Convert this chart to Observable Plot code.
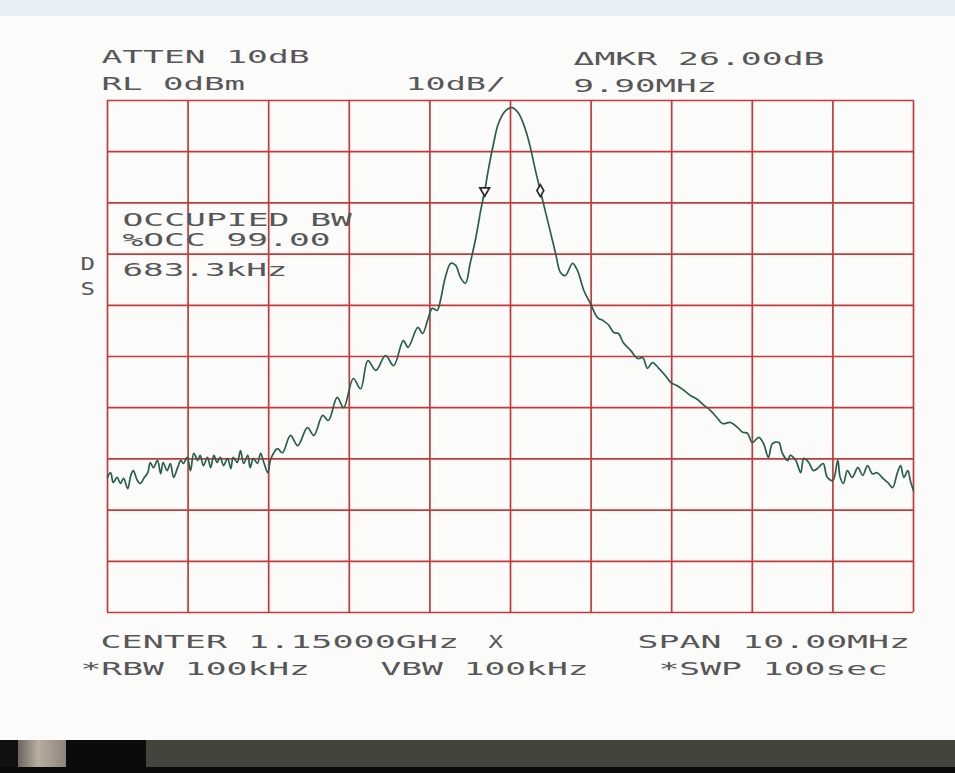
<!DOCTYPE html>
<html>
<head>
<meta charset="utf-8">
<script src="https://cdn.jsdelivr.net/npm/d3@7"></script>
<script src="https://cdn.jsdelivr.net/npm/@observablehq/plot@0.6"></script>
<style>
  html, body { margin: 0; padding: 0; background: #fbfbfa; }
  #page { position: relative; width: 955px; height: 773px; overflow: hidden; }
  #topband { position: absolute; left: 0; top: 0; width: 955px; height: 16px; background: #e6eff5; }
  #chart { position: absolute; left: 0; top: 0; }
  #bottombar { position: absolute; left: 0; top: 740px; width: 955px; height: 33px; background: #43443b; }
  #bottombar .edge { position: absolute; left: 0; top: 0; width: 18px; height: 33px; background: #111; }
  #bottombar .blob { position: absolute; left: 18px; top: 0; width: 50px; height: 33px; background: linear-gradient(90deg,#6a665e,#b9ada0 40%,#8a8278); }
  #bottombar .block { position: absolute; left: 66px; top: 0; width: 80px; height: 27px; background: #0b0b0b; }
  #bottombar .foot { position: absolute; left: 0; top: 27px; width: 955px; height: 6px; background: #0a0a0a; }
</style>
</head>
<body>
<div id="page">
  <div id="topband"></div>
  <div id="chart"></div>
  <div id="bottombar"><div class="edge"></div><div class="blob"></div><div class="block"></div><div class="foot"></div></div>
</div>
<script>
// Frequency offset from center (MHz) and trace level (dBm)
const freqMHz = [
  -5.00,-4.96,-4.93,-4.88,-4.84,-4.80,-4.75,-4.71,-4.68,-4.63,
  -4.59,-4.55,-4.50,-4.47,-4.43,-4.38,-4.34,-4.31,-4.26,-4.22,
  -4.18,-4.13,-4.09,-4.06,-4.01,-3.97,-3.93,-3.88,-3.85,-3.81,
  -3.76,-3.72,-3.68,-3.64,-3.60,-3.56,-3.51,-3.47,-3.44,-3.39,
  -3.35,-3.31,-3.26,-3.23,-3.19,-3.14,-3.10,-3.06,-3.01,-2.98,
  -2.94,-2.89,-2.83,-2.73,-2.64,-2.52,-2.44,-2.33,-2.26,-2.15,
  -2.07,-1.95,-1.86,-1.77,-1.67,-1.55,-1.45,-1.33,-1.27,-1.15,
  -1.09,-1.03,-0.97,-0.91,-0.87,-0.81,-0.74,-0.68,-0.62,-0.56,
  -0.50,-0.43,-0.37,-0.32,-0.27,-0.21,-0.15,-0.06,0.02,0.10,
  0.19,0.25,0.31,0.37,0.43,0.50,0.56,0.62,0.68,0.77,
  0.83,0.91,0.99,1.08,1.15,1.22,1.28,1.34,1.40,1.49,
  1.58,1.64,1.70,1.76,1.84,1.92,1.99,2.07,2.15,2.23,
  2.32,2.39,2.48,2.57,2.63,2.73,2.82,2.88,2.94,3.00,
  3.08,3.14,3.20,3.25,3.33,3.37,3.44,3.47,3.54,3.60,
  3.64,3.70,3.76,3.82,3.88,3.93,4.00,4.06,4.09,4.13,
  4.18,4.24,4.31,4.37,4.43,4.49,4.55,4.62,4.68,4.74,
  4.80,4.84,4.88,4.93,4.96,5.00
];
const levelDb = [
  -73.6,-72.7,-74.6,-73.6,-74.8,-73.8,-75.8,-73.2,-72.3,-74.2,
  -74.8,-73.8,-72.7,-70.7,-71.7,-70.3,-72.9,-70.7,-72.3,-70.9,
  -73.6,-71.7,-70.3,-70.9,-69.7,-72.3,-68.9,-70.3,-69.3,-71.3,
  -69.7,-71.7,-69.3,-70.7,-69.7,-71.3,-69.9,-71.9,-69.7,-70.7,
  -68.4,-70.9,-69.3,-71.7,-69.9,-70.9,-68.9,-70.7,-72.7,-70.3,
  -68.9,-68.0,-68.8,-65.4,-67.4,-63.9,-65.4,-61.5,-62.5,-58.0,
  -60.0,-54.3,-56.3,-50.8,-52.7,-49.8,-51.8,-46.9,-48.2,-44.3,
  -45.5,-43.0,-40.6,-41.0,-39.1,-34.6,-31.8,-32.2,-34.6,-35.7,
  -31.8,-26.8,-21.5,-17.6,-13.1,-8.4,-4.5,-2.0,-1.4,-2.5,
  -5.9,-9.4,-13.7,-17.6,-21.5,-26.0,-29.9,-33.6,-34.2,-31.8,
  -33.2,-37.1,-39.6,-42.4,-43.0,-43.9,-45.3,-45.5,-47.3,-48.8,
  -50.4,-50.2,-52.3,-51.2,-52.3,-53.7,-55.1,-55.7,-56.6,-57.6,
  -58.4,-59.4,-60.5,-62.1,-63.1,-62.9,-63.9,-64.8,-65.0,-66.8,
  -65.8,-67.0,-69.7,-67.0,-66.8,-68.8,-70.3,-69.3,-70.3,-72.7,
  -69.9,-70.7,-72.3,-71.7,-70.9,-73.6,-74.2,-70.3,-73.6,-74.8,
  -72.3,-73.6,-71.7,-73.2,-71.3,-72.9,-72.7,-73.8,-74.6,-75.6,
  -72.7,-71.3,-73.6,-72.3,-74.2,-76.2
];
// Occupied-bandwidth markers
const markerFreq = [-0.32, 0.37];
const markerLevel = [-17.6, -17.6];
const markerKind = ["triangle", "diamond"];
// Graticule: 10 divisions, 1 MHz/div and 10 dB/div
const freqGrid = [-5,-4,-3,-2,-1,0,1,2,3,4,5];
const levelGrid = [0,-10,-20,-30,-40,-50,-60,-70,-80,-90,-100];
// Screen annotations
const headerLabels = ["ATTEN 10dB", "RL 0dBm", "10dB/", "ΔMKR 26.00dB", "9.90MHz"];
const bwLabels = ["OCCUPIED BW", "%OCC 99.00", "683.3kHz"];
const sideLabels = ["D", "S"];
const footerLabels = ["CENTER 1.15000GHz", "X", "SPAN 10.00MHz", "*RBW 100kHz", "VBW 100kHz", "*SWP 100sec"];

const trace = freqMHz.map((f, i) => ({f, db: levelDb[i]}));
const markers = markerFreq.map((f, i) => ({f, db: markerLevel[i], kind: markerKind[i]}));

const grid = "#c43a3a";
const ink = "#575757";
const label = (txt, dx, dy) => Plot.text([txt], {
  text: d => d, frameAnchor: "top-left", dx, dy,
  textAnchor: "start", lineAnchor: "middle", fill: ink
});

const chart = Plot.plot({
  width: 955,
  height: 740,
  marginLeft: 107,
  marginRight: 42,
  marginTop: 100,
  marginBottom: 128,
  x: {domain: [-5, 5], axis: null},
  y: {domain: [-100, 0], axis: null},
  style: {background: "transparent", fontFamily: "'DejaVu Sans Mono', monospace", fontSize: "18px"},
  marks: [
    Plot.ruleX(freqGrid, {stroke: grid, strokeWidth: 1.7}),
    Plot.ruleY(levelGrid, {stroke: grid, strokeWidth: 1.7}),
    Plot.line(trace, {x: "f", y: "db", stroke: "#285f4e", strokeWidth: 1.7, curve: "catmull-rom"}),
    Plot.dot(markers.filter(d => d.kind === "triangle"), {x: "f", y: "db", symbol: "triangle", r: 3.6, rotate: 180, stroke: "#2a2a2a", strokeWidth: 1.7, fill: "#fbfbfa"}),
    Plot.dot(markers.filter(d => d.kind === "diamond"), {x: "f", y: "db", symbol: "diamond", r: 3.6, stroke: "#2a2a2a", strokeWidth: 1.7, fill: "#fbfbfa"}),
    label(headerLabels[0], -6, -43),
    label(headerLabels[1], -6, -16),
    label(headerLabels[2], 298, -16),
    label(headerLabels[3], 466, -41),
    label(headerLabels[4], 466, -14),
    label(bwLabels[0], 15, 120),
    label(bwLabels[1], 15, 140),
    label(bwLabels[2], 15, 170),
    label(sideLabels[0], -27, 164),
    label(sideLabels[1], -27, 189),
    label(footerLabels[0], -7, 542),
    label(footerLabels[1], 381, 542),
    label(footerLabels[2], 530, 542),
    label(footerLabels[3], -27, 569),
    label(footerLabels[4], 273, 569),
    label(footerLabels[5], 551, 569)
  ]
});

d3.select(chart).selectAll("g[aria-label=text] text").each(function () {
  const n = this.textContent.length;
  this.setAttribute("textLength", n * 21.5 - 7);
  this.setAttribute("lengthAdjust", "spacingAndGlyphs");
});

document.getElementById("chart").append(chart);
</script>
</body>
</html>
